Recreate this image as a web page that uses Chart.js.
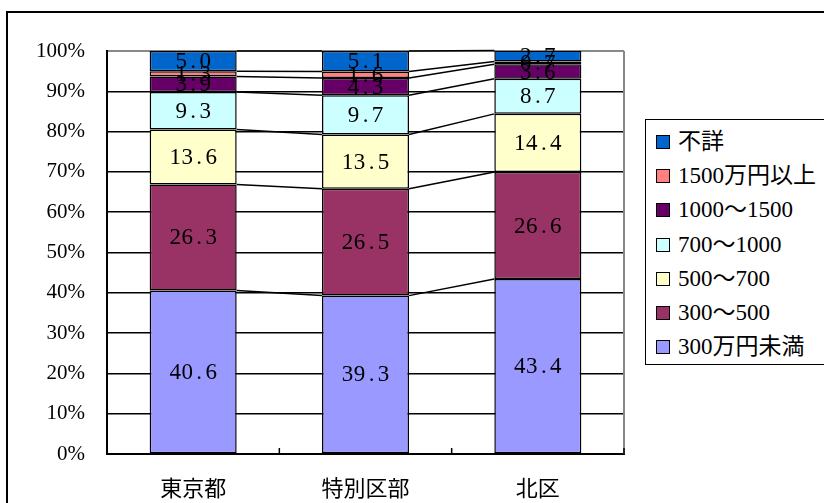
<!DOCTYPE html>
<html>
<head>
<meta charset="utf-8">
<script src="https://cdn.jsdelivr.net/npm/chart.js@4"></script>
<style>
  html, body { margin: 0; padding: 0; background: #fff; }
  #wrap { position: relative; width: 824px; height: 503px; overflow: hidden; }
  #frame { position: absolute; left: 6px; top: 11px; width: 900px; height: 600px;
           border-left: 2px solid #000; border-top: 2px solid #000; box-sizing: border-box; }
  canvas { position: absolute; left: 0; top: 0; }
  #legend { position: absolute; left: 645px; top: 119px; width: 220px; height: 246px;
            border: 1.5px solid #000; background: #fff; box-sizing: border-box;
            font-family: 'Liberation Serif', 'Noto Sans CJK JP', serif; font-size: 23px; color: #000; }
  .item { position: absolute; left: 0; height: 30px; line-height: 30px; white-space: nowrap; }
  .sw { position: absolute; left: 10px; top: 8px; width: 14px; height: 14px; border: 1.5px solid #000; box-sizing: border-box; }
  .tx { position: absolute; left: 32px; top: 0; }
</style>
</head>
<body>
<div id="wrap">
  <div id="frame"></div>
  <canvas id="c" width="824" height="503"></canvas>
  <div id="legend"></div>
</div>
<script>
// ---- data ----
const categories = ['東京都', '特別区部', '北区'];
const seriesNames = ['300万円未満', '300〜500', '500〜700', '700〜1000', '1000〜1500', '1500万円以上', '不詳'];
const under300   = [40.6, 39.3, 43.4];
const s300to500  = [26.3, 26.5, 26.6];
const s500to700  = [13.6, 13.5, 14.4];
const s700to1000 = [9.3, 9.7, 8.7];
const s1000to1500 = [3.9, 4.3, 3.6];
const over1500   = [1.3, 1.6, 0.7];
const unknown    = [5.0, 5.1, 2.7];
const yTicks = [0, 10, 20, 30, 40, 50, 60, 70, 80, 90, 100];

const seriesValues = [under300, s300to500, s500to700, s700to1000, s1000to1500, over1500, unknown];
const colors = ['#9999FF', '#993366', '#FFFFCC', '#CCFFFF', '#660066', '#FF8080', '#0066CC'];

const FONT = "'Liberation Serif', 'Noto Sans CJK JP', serif";

const datasets = seriesNames.map((n, i) => ({
  label: n,
  data: seriesValues[i],
  backgroundColor: colors[i],
  borderColor: '#000',
  borderWidth: 1.5,
  borderSkipped: false,
  barPercentage: 1.0,
  categoryPercentage: 0.505
}));

const extras = {
  id: 'extras',
  afterDatasetsDraw(chart) {
    const ctx = chart.ctx;
    const ca = chart.chartArea;
    ctx.save();
    // right border of plot area (gray)
    ctx.strokeStyle = '#888';
    ctx.lineWidth = 2;
    ctx.beginPath();
    ctx.moveTo(ca.right, ca.top);
    ctx.lineTo(ca.right, ca.bottom);
    ctx.stroke();
    // x category boundary tick marks (inside)
    ctx.strokeStyle = '#000';
    ctx.lineWidth = 1.5;
    const n = categories.length;
    for (let i = 1; i <= n; i++) {
      const bx = ca.left + (ca.right - ca.left) * i / n;
      ctx.beginPath();
      ctx.moveTo(bx, ca.bottom);
      ctx.lineTo(bx, ca.bottom - 6);
      ctx.stroke();
    }
    // series lines
    ctx.strokeStyle = '#000';
    ctx.lineWidth = 1.5;
    chart.data.datasets.forEach((ds, d) => {
      const meta = chart.getDatasetMeta(d);
      for (let i = 0; i < meta.data.length - 1; i++) {
        const a = meta.data[i], b = meta.data[i + 1];
        ctx.beginPath();
        ctx.moveTo(a.x + a.width / 2, a.y);
        ctx.lineTo(b.x - b.width / 2, b.y);
        ctx.stroke();
      }
    });
    // data labels
    ctx.fillStyle = '#000';
    ctx.font = '23px ' + FONT;
    ctx.textAlign = 'center';
    ctx.textBaseline = 'middle';
    const cell = 12;
    chart.data.datasets.forEach((ds, d) => {
      const meta = chart.getDatasetMeta(d);
      meta.data.forEach((el, i) => {
        const txt = ds.data[i].toFixed(1);
        const cy = (el.y + el.base) / 2 + 1;
        const w = txt.length * cell;
        let x0 = el.x - w / 2 + cell / 2;
        for (let k = 0; k < txt.length; k++) {
          ctx.fillText(txt[k], x0 + k * cell, cy);
        }
      });
    });
    ctx.restore();
  }
};

const chart = new Chart(document.getElementById('c'), {
  type: 'bar',
  data: { labels: categories, datasets },
  options: {
    responsive: false,
    animation: false,
    layout: { padding: { left: 0, top: 51, right: 200, bottom: 0 } },
    plugins: { legend: { display: false }, tooltip: { enabled: false } },
    scales: {
      x: {
        stacked: true,
        grid: { display: false, drawTicks: false },
        border: { display: true, color: '#000', width: 2 },
        ticks: { color: '#000', font: { family: FONT, size: 22 }, padding: 23, maxRotation: 0 },
        afterFit(s) { s.height = 49; }
      },
      y: {
        stacked: true,
        min: 0, max: 100,
        afterBuildTicks(s) { s.ticks = yTicks.map(v => ({ value: v })); },
        grid: {
          color: (c) => c.tick && c.tick.value === 100 ? '#888' : '#000',
          lineWidth: (c) => c.tick && c.tick.value === 100 ? 2 : 1.5,
          drawTicks: false
        },
        border: { display: true, color: '#000', width: 2 },
        ticks: { color: '#000', font: { family: FONT, size: 21 }, padding: 22, callback: v => v + '%' },
        afterFit(s) { s.width = 107; }
      }
    }
  },
  plugins: [extras]
});

// legend (top-to-bottom reverse order)
const lg = document.getElementById('legend');
const order = seriesNames.map((n, i) => i).reverse();
order.forEach((idx, k) => {
  const it = document.createElement('div');
  it.className = 'item';
  it.style.top = (7 + k * 34.2) + 'px';
  const sw = document.createElement('div');
  sw.className = 'sw';
  sw.style.background = colors[idx];
  const tx = document.createElement('span');
  tx.className = 'tx';
  tx.textContent = seriesNames[idx];
  it.appendChild(sw); it.appendChild(tx);
  lg.appendChild(it);
});
</script>
</body>
</html>
